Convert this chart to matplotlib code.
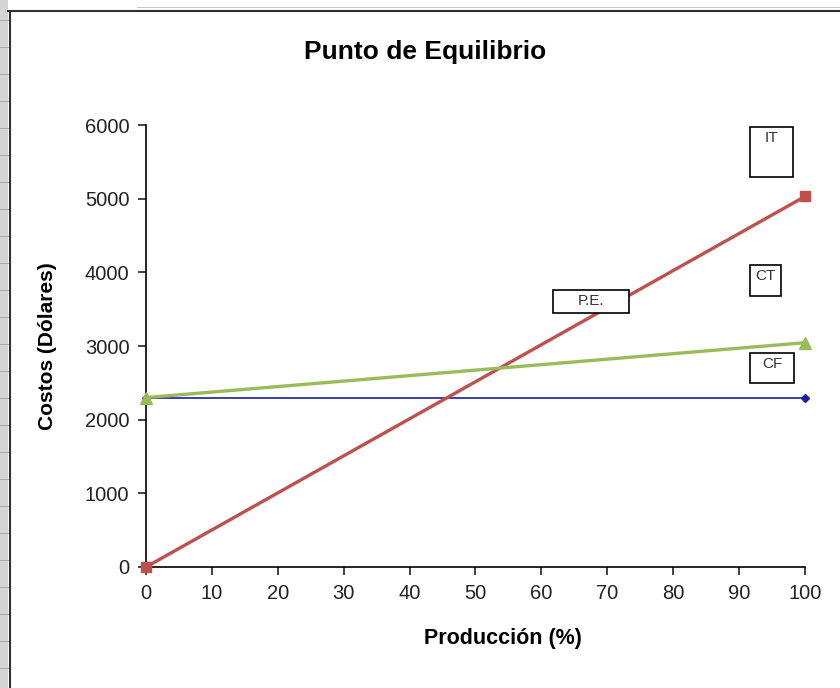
import matplotlib.pyplot as plt
from matplotlib.patches import Rectangle
from matplotlib.lines import Line2D

plt.rcParams['font.family'] = ['Liberation Sans', 'DejaVu Sans']

# datos del gráfico
produccion = [0, 100]
ingreso_total = [0, 5030]     # IT
costo_total = [2300, 3045]    # CT
costo_fijo = [2290, 2290]     # CF

x_ticks = list(range(0, 101, 10))
y_ticks = list(range(0, 6001, 1000))

W, H = 840, 688
fig = plt.figure(figsize=(W / 100, H / 100), dpi=100)

def px(x, y):
    # pixeles (arriba-izquierda) -> fraccion de figura
    return x / W, 1 - y / H

# borde de la hoja de calculo
fig.add_artist(Rectangle((0, 0), 8 / W, 1, transform=fig.transFigure, color='#d4d4d4', lw=0))
for yy in range(20, H, 27):
    fig.add_artist(Line2D([0, 8 / W], [1 - yy / H] * 2, transform=fig.transFigure, color='#a0a0a0', lw=0.6))
fig.add_artist(Line2D([137 / W, 1], [1 - 7 / H] * 2, transform=fig.transFigure, color='#c8c8c8', lw=0.8))
fig.add_artist(Line2D([10 / W, 10 / W], [0, 1 - 11 / H], transform=fig.transFigure, color='#303030', lw=1.5))
fig.add_artist(Line2D([8 / W, 1], [1 - 11 / H] * 2, transform=fig.transFigure, color='#303030', lw=1.5))

ax = fig.add_axes([146 / W, 1 - 567 / H, (805 - 146) / W, (567 - 125) / H])

ax.plot(produccion, costo_fijo, color='#1c1c9c', lw=1.2, marker='D', markersize=4, zorder=3, clip_on=False)
ax.plot(produccion, ingreso_total, color='#c0504d', lw=2.4, marker='s', markersize=7.5, zorder=4, clip_on=False)
ax.plot(produccion, costo_total, color='#9bbb59', lw=2.4, marker='^', markersize=8, zorder=5, clip_on=False)

ax.set_xlim(0, 100)
ax.set_ylim(0, 6000)
ax.set_xticks(x_ticks)
ax.set_yticks(y_ticks)
ax.tick_params(labelsize=14.5, colors='#222222', direction='out', length=6, width=1.2, pad=6)
for s in ['top', 'right']:
    ax.spines[s].set_visible(False)
for s in ['left', 'bottom']:
    ax.spines[s].set_linewidth(1.2)
    ax.spines[s].set_clip_on(False)
ax.set_xlabel('Producción (%)', fontsize=15.5, fontweight='bold')
ax.xaxis.set_label_coords(0.542, -0.138)
ax.set_ylabel('Costos (Dólares)', fontsize=15, fontweight='bold', labelpad=20)

fig.text(*px(425, 52), 'Punto de Equilibrio', ha='center', va='center', fontsize=19, fontweight='bold')

# cuadros de texto
cuadros = [('IT', 750, 127, 43, 50), ('CT', 750, 265, 31, 31), ('CF', 750, 353, 44, 30), ('P.E.', 553, 290, 76, 23)]
for txt, x0, y0, w, h in cuadros:
    fig.add_artist(Rectangle((x0 / W, 1 - (y0 + h) / H), w / W, h / H, transform=fig.transFigure,
                             facecolor='white', edgecolor='black', lw=1.2, zorder=10))
    fig.text((x0 + w / 2) / W, 1 - (y0 + 11) / H, txt, ha='center', va='center', fontsize=11,
             color='#333333', zorder=11)

fig.savefig('out.png', dpi=100)
